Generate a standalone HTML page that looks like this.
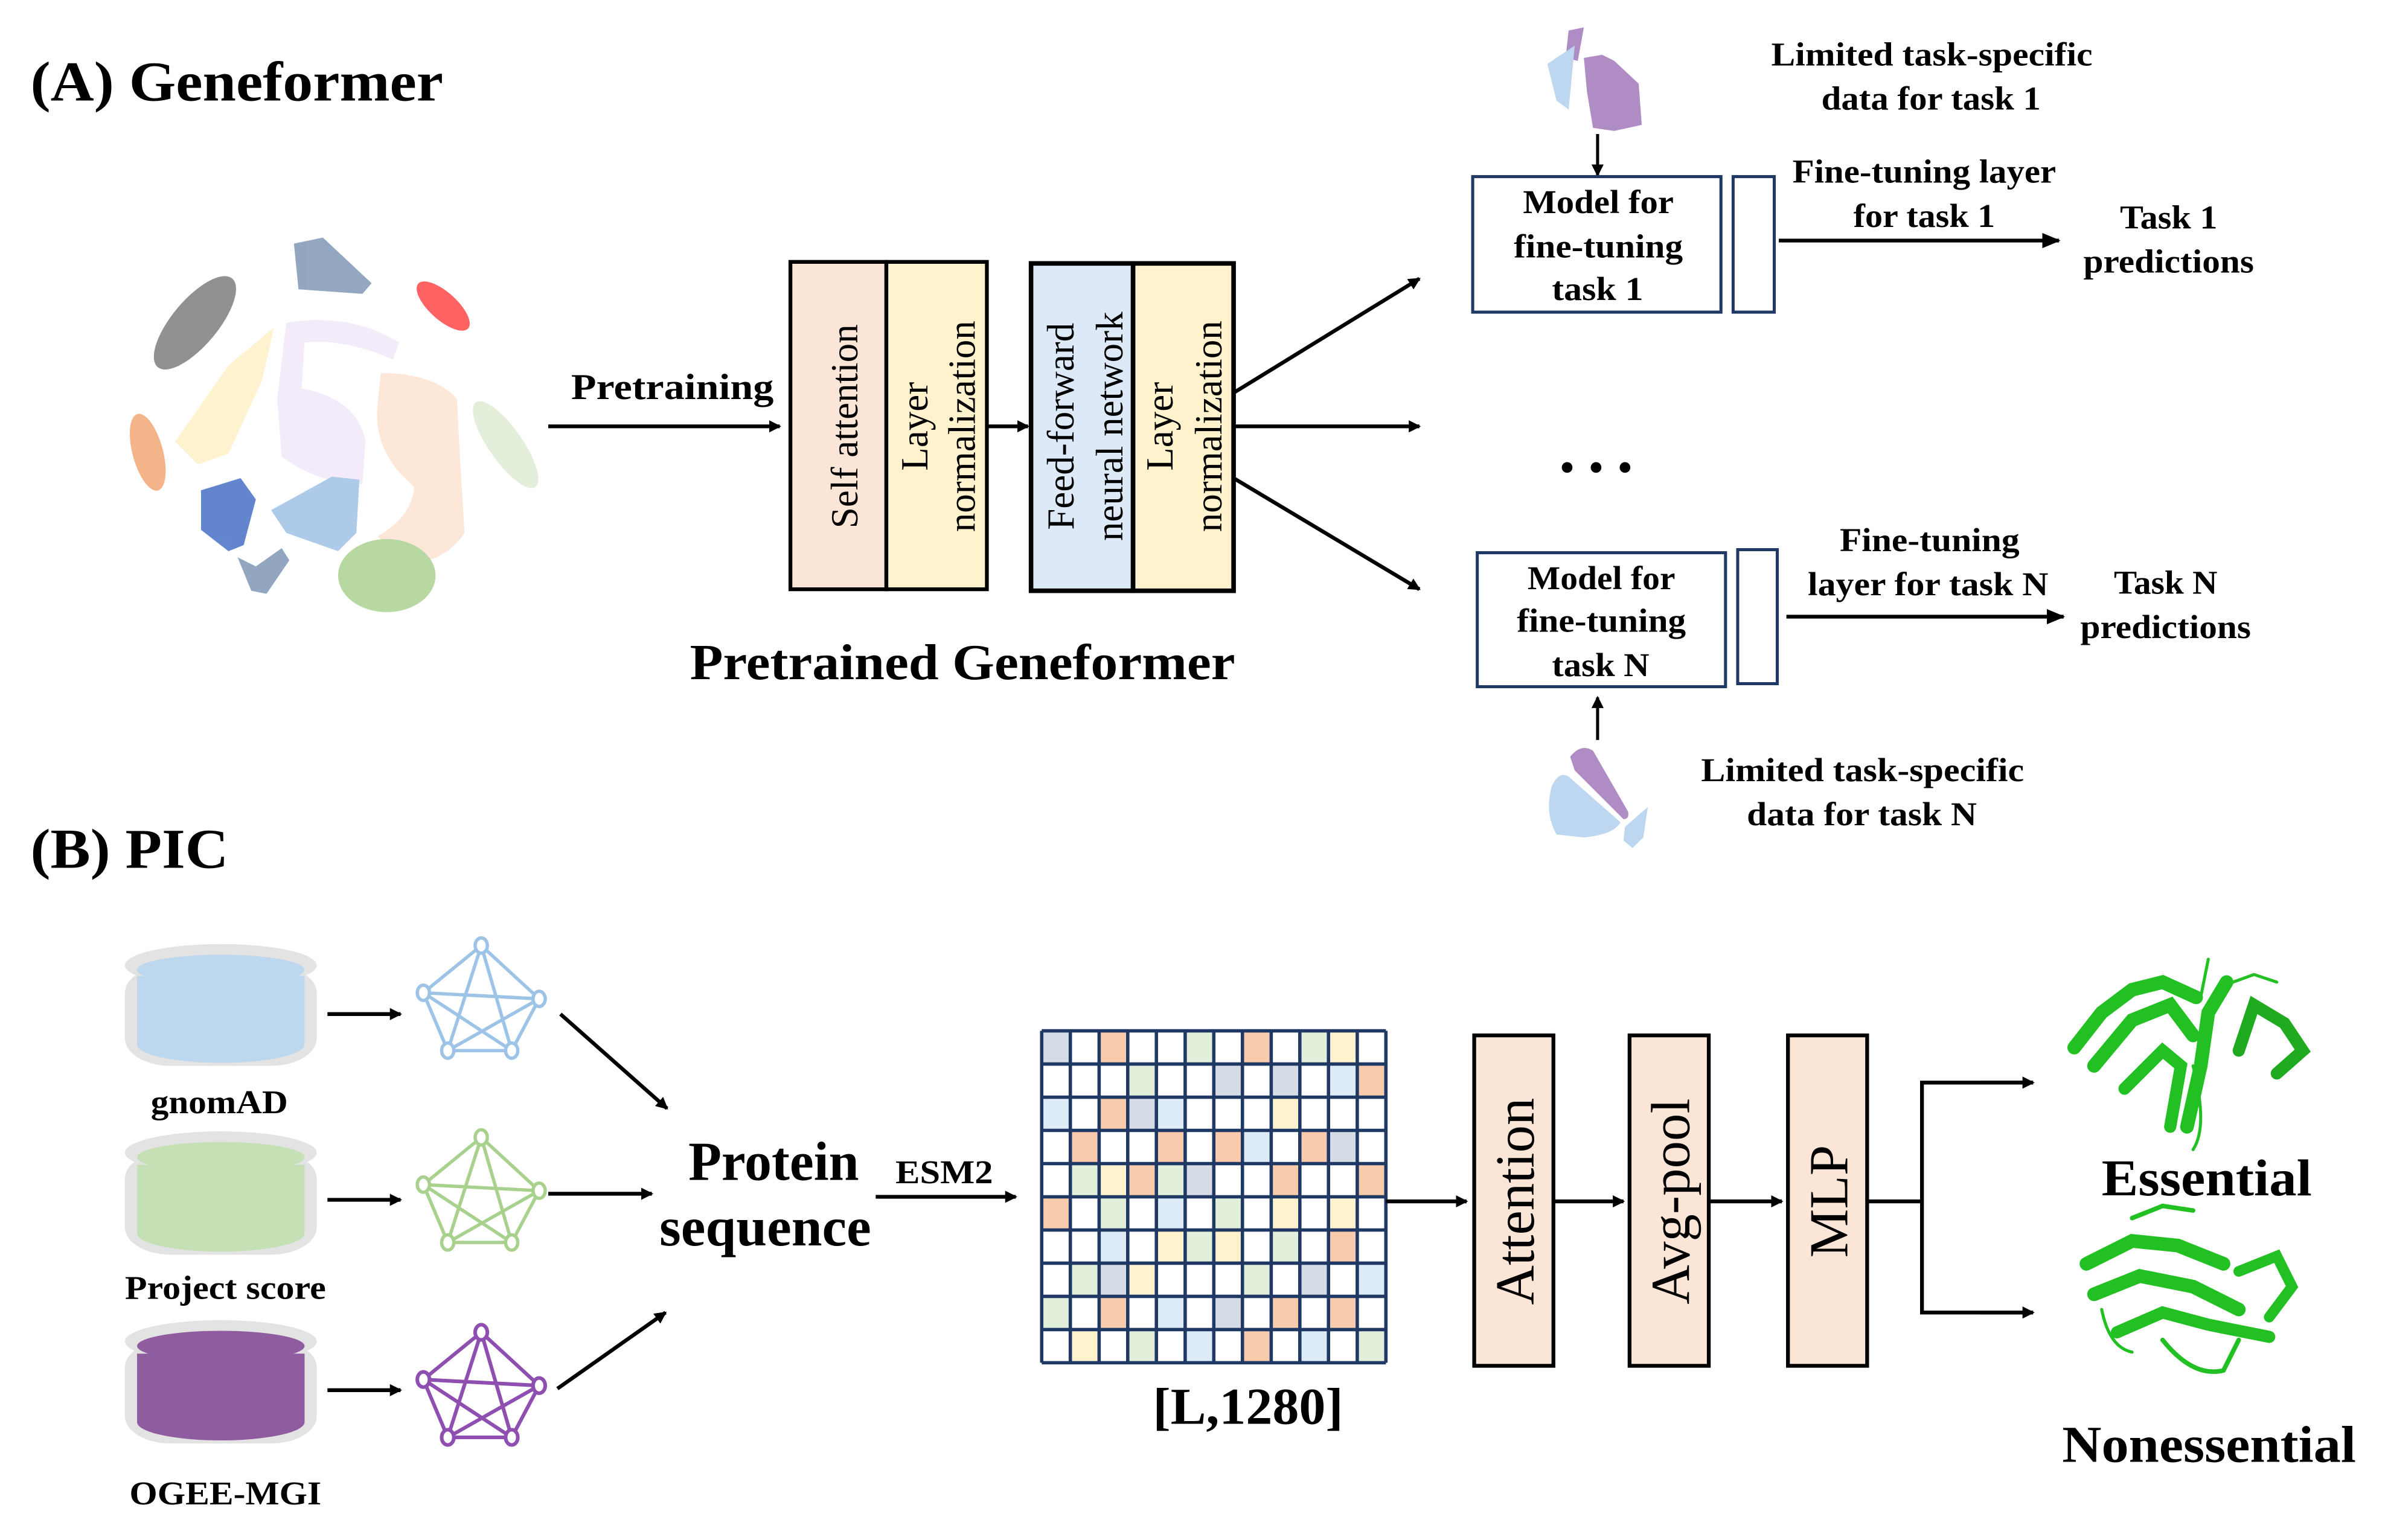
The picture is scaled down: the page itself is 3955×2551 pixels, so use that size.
<!DOCTYPE html>
<html><head><meta charset="utf-8"><style>
html,body{margin:0;padding:0;background:#fff}
svg{display:block}
text{font-family:"Liberation Serif",serif}
.b{font-weight:bold}
</style></head><body>
<svg width="3955" height="2551" viewBox="0 0 1568 1011.4" preserveAspectRatio="none" xmlns="http://www.w3.org/2000/svg">
<defs>
<marker id="ah" markerWidth="8" markerHeight="8" refX="7" refY="4" orient="auto" markerUnits="userSpaceOnUse">
<path d="M0,0 L8,4 L0,8 z" fill="#000"/></marker>
<marker id="ah2" markerWidth="12" markerHeight="10" refX="11" refY="5" orient="auto" markerUnits="userSpaceOnUse">
<path d="M0,0 L12,5 L0,10 z" fill="#000"/></marker>
</defs>
<rect width="1568" height="1011.4" fill="#fff"/>

<!-- (A) -->
<text x="20" y="66" class="b" font-size="37" textLength="271" lengthAdjust="spacingAndGlyphs">(A) Geneformer</text>

<!-- cell clusters -->
<g opacity="0.95">
<ellipse cx="128" cy="212" rx="38" ry="15" fill="#8c8c8c" transform="rotate(-50 128 212)"/>
<path d="M193,160 L212,156 L244,186 L238,193 L196,190 Z" fill="#8ea2bd"/>
<ellipse cx="291" cy="201" rx="22" ry="9" fill="#ff5a5a" transform="rotate(42 291 201)"/>
<path d="M130,305 L115,290 L150,240 L180,215 L172,250 L150,298 Z" fill="#fff2cc"/>
<path d="M188,212 Q230,205 262,225 L258,236 Q225,222 200,225 L198,255 Q235,262 240,290 L238,318 Q210,318 185,300 L182,262 Z" fill="#f4eafa"/>
<path d="M250,245 Q285,245 300,262 L302,300 L305,350 Q290,372 262,370 L248,352 Q270,340 272,320 L262,310 Q245,290 248,265 Z" fill="#fce6d8"/>
<ellipse cx="332" cy="292" rx="34" ry="11" fill="#e2efda" transform="rotate(55 332 292)"/>
<ellipse cx="97" cy="297" rx="10" ry="26" fill="#f4b183" transform="rotate(-15 97 297)"/>
<path d="M132,322 L158,314 L168,328 L160,358 L150,362 L132,348 Z" fill="#5b7fcb"/>
<path d="M178,335 L218,313 L236,315 L234,350 L222,362 L188,350 Z" fill="#a9c8e8"/>
<path d="M156,366 L168,372 L185,360 L190,368 L175,390 L165,388 Z" fill="#8ea2bd"/>
<ellipse cx="254" cy="378" rx="32" ry="24" fill="#b4d69c"/>
</g>

<line x1="360" y1="280" x2="512" y2="280" stroke="#000" stroke-width="2.5" marker-end="url(#ah)"/>
<text x="375" y="262" class="b" font-size="24" textLength="133" lengthAdjust="spacingAndGlyphs">Pretraining</text>

<!-- Geneformer blocks -->
<rect x="519" y="172" width="63" height="215" fill="#fbe5d6" stroke="#000" stroke-width="2.5"/>
<rect x="582" y="172" width="66" height="215" fill="#fff2cc" stroke="#000" stroke-width="2.5"/>
<line x1="648" y1="280" x2="675" y2="280" stroke="#000" stroke-width="2.5" marker-end="url(#ah)"/>
<rect x="677" y="173" width="67" height="215" fill="#dde9f6" stroke="#000" stroke-width="3"/>
<rect x="744" y="173" width="66" height="215" fill="#fff2cc" stroke="#000" stroke-width="3"/>
<g font-size="25">
<text transform="translate(563,280) rotate(-90)" text-anchor="middle">Self attention</text>
<text transform="translate(609,280) rotate(-90)" text-anchor="middle">Layer</text>
<text transform="translate(640,280) rotate(-90)" text-anchor="middle">normalization</text>
<text transform="translate(705,280) rotate(-90)" text-anchor="middle">Feed-forward</text>
<text transform="translate(737,280) rotate(-90)" text-anchor="middle">neural network</text>
<text transform="translate(770,280) rotate(-90)" text-anchor="middle">Layer</text>
<text transform="translate(802,280) rotate(-90)" text-anchor="middle">normalization</text>
</g>
<text x="453" y="446" class="b" font-size="33" textLength="358" lengthAdjust="spacingAndGlyphs">Pretrained Geneformer</text>

<line x1="810" y1="258" x2="932" y2="183" stroke="#000" stroke-width="2.5" marker-end="url(#ah)"/>
<line x1="810" y1="280" x2="932" y2="280" stroke="#000" stroke-width="2.5" marker-end="url(#ah)"/>
<line x1="810" y1="314" x2="932" y2="387" stroke="#000" stroke-width="2.5" marker-end="url(#ah)"/>

<!-- task 1 -->
<path d="M1030,20 L1040,18 L1036,40 L1028,38 Z" fill="#b08cc4"/>
<path d="M1016,42 L1034,30 L1030,72 L1022,66 Z" fill="#bcd7ef"/>
<path d="M1040,38 L1052,36 L1060,40 L1076,55 L1078,82 L1060,86 L1046,84 L1042,60 Z" fill="#b08cc4"/>
<line x1="1049" y1="88" x2="1049" y2="115" stroke="#000" stroke-width="2" marker-end="url(#ah)"/>
<g class="b" font-size="22" font-weight="bold">
<text x="1163" y="43" textLength="211" lengthAdjust="spacingAndGlyphs">Limited task-specific</text>
<text x="1196" y="72" textLength="144" lengthAdjust="spacingAndGlyphs">data for task 1</text>
</g>
<rect x="967" y="116" width="163" height="89" fill="#fff" stroke="#1f3864" stroke-width="2"/>
<rect x="1138" y="116" width="27" height="89" fill="#fff" stroke="#1f3864" stroke-width="2"/>
<g font-size="22" font-weight="bold">
<text x="1000" y="140" textLength="99" lengthAdjust="spacingAndGlyphs">Model for</text>
<text x="994" y="169" textLength="111" lengthAdjust="spacingAndGlyphs">fine-tuning</text>
<text x="1019" y="197" textLength="60" lengthAdjust="spacingAndGlyphs">task 1</text>
</g>
<line x1="1168" y1="158" x2="1352" y2="158" stroke="#000" stroke-width="2.5" marker-end="url(#ah2)"/>
<g font-size="22" font-weight="bold">
<text x="1177" y="120" textLength="173" lengthAdjust="spacingAndGlyphs">Fine-tuning layer</text>
<text x="1217" y="149" textLength="93" lengthAdjust="spacingAndGlyphs">for task 1</text>
<text x="1392" y="150" textLength="64" lengthAdjust="spacingAndGlyphs">Task 1</text>
<text x="1368" y="179" textLength="112" lengthAdjust="spacingAndGlyphs">predictions</text>
</g>

<circle cx="1029" cy="307" r="3.5" fill="#000"/>
<circle cx="1048" cy="307" r="3.5" fill="#000"/>
<circle cx="1067" cy="307" r="3.5" fill="#000"/>

<!-- task N -->
<rect x="970" y="363" width="163" height="88" fill="#fff" stroke="#1f3864" stroke-width="2"/>
<rect x="1141" y="361" width="26" height="88" fill="#fff" stroke="#1f3864" stroke-width="2"/>
<g font-size="22" font-weight="bold">
<text x="1003" y="387" textLength="97" lengthAdjust="spacingAndGlyphs">Model for</text>
<text x="996" y="415" textLength="111" lengthAdjust="spacingAndGlyphs">fine-tuning</text>
<text x="1019" y="444" textLength="64" lengthAdjust="spacingAndGlyphs">task N</text>
</g>
<line x1="1173" y1="405" x2="1355" y2="405" stroke="#000" stroke-width="2.5" marker-end="url(#ah2)"/>
<g font-size="22" font-weight="bold">
<text x="1208" y="362" textLength="118" lengthAdjust="spacingAndGlyphs">Fine-tuning</text>
<text x="1187" y="391" textLength="158" lengthAdjust="spacingAndGlyphs">layer for task N</text>
<text x="1388" y="390" textLength="68" lengthAdjust="spacingAndGlyphs">Task N</text>
<text x="1366" y="419" textLength="112" lengthAdjust="spacingAndGlyphs">predictions</text>
<text x="1117" y="513" textLength="212" lengthAdjust="spacingAndGlyphs">Limited task-specific</text>
<text x="1147" y="542" textLength="151" lengthAdjust="spacingAndGlyphs">data for task N</text>
</g>
<line x1="1049" y1="486" x2="1049" y2="458" stroke="#000" stroke-width="2" marker-end="url(#ah)"/>
<path d="M1031,497 Q1038,488 1046,493 L1069,533 Q1070,538 1066,538 L1034,506 Z" fill="#b08cc4"/>
<path d="M1019,516 Q1024,506 1030,510 L1064,540 Q1060,548 1040,550 L1022,548 Q1014,534 1019,516 Z" fill="#bcd7ef"/>
<path d="M1067,543 L1082,530 L1079,550 L1072,557 L1066,552 Z" fill="#bcd7ef"/>

<!-- (B) -->
<text x="20" y="570" class="b" font-size="37" textLength="130" lengthAdjust="spacingAndGlyphs">(B) PIC</text>

<!-- cylinders -->
<g>
<rect x="82" y="634" width="126" height="66" rx="30" ry="18" fill="#e3e3e3"/>
<ellipse cx="145" cy="634" rx="63" ry="14" fill="#e3e3e3"/>
<path d="M90,641 L90,686 A55,12 0 0 0 200,686 L200,641 Z" fill="#bdd7ee"/>
<ellipse cx="145" cy="637" rx="55" ry="10" fill="#bdd7ee"/>
</g>
<g>
<rect x="82" y="756" width="126" height="68" rx="30" ry="18" fill="#e3e3e3"/>
<ellipse cx="145" cy="757" rx="63" ry="14" fill="#e3e3e3"/>
<path d="M90,765 L90,810 A55,12 0 0 0 200,810 L200,765 Z" fill="#c5e0b4"/>
<ellipse cx="145" cy="760" rx="55" ry="10" fill="#c5e0b4"/>
</g>
<g>
<rect x="82" y="880" width="126" height="68" rx="30" ry="18" fill="#e3e3e3"/>
<ellipse cx="145" cy="881" rx="63" ry="14" fill="#e3e3e3"/>
<path d="M90,889 L90,934 A55,12 0 0 0 200,934 L200,889 Z" fill="#8f5d9f"/>
<ellipse cx="145" cy="884" rx="55" ry="10" fill="#8f5d9f"/>
</g>
<g font-size="22" font-weight="bold">
<text x="99" y="731" textLength="90" lengthAdjust="spacingAndGlyphs">gnomAD</text>
<text x="82" y="853" textLength="132" lengthAdjust="spacingAndGlyphs">Project score</text>
<text x="85" y="988" textLength="126" lengthAdjust="spacingAndGlyphs">OGEE-MGI</text>
</g>

<line x1="215" y1="666" x2="263" y2="666" stroke="#000" stroke-width="2.5" marker-end="url(#ah)"/>
<line x1="215" y1="788" x2="263" y2="788" stroke="#000" stroke-width="2.5" marker-end="url(#ah)"/>
<line x1="215" y1="913" x2="263" y2="913" stroke="#000" stroke-width="2.5" marker-end="url(#ah)"/>

<!-- networks -->
<g fill="#fff" stroke="#9dc3e6" stroke-width="2.2">
<path d="M316,621 L278,652 L294,690 L336,690 L354,656 Z M316,621 L294,690 M316,621 L336,690 M278,652 L354,656 M278,652 L336,690 M294,690 L354,656" fill="none"/>
<ellipse cx="316" cy="621" rx="4" ry="5"/><ellipse cx="278" cy="652" rx="4" ry="5"/><ellipse cx="354" cy="656" rx="4" ry="5"/><ellipse cx="294" cy="690" rx="4" ry="5"/><ellipse cx="336" cy="690" rx="4" ry="5"/>
</g>
<g fill="#fff" stroke="#a9d18e" stroke-width="2.2" transform="translate(0,126)">
<path d="M316,621 L278,652 L294,690 L336,690 L354,656 Z M316,621 L294,690 M316,621 L336,690 M278,652 L354,656 M278,652 L336,690 M294,690 L354,656" fill="none"/>
<ellipse cx="316" cy="621" rx="4" ry="5"/><ellipse cx="278" cy="652" rx="4" ry="5"/><ellipse cx="354" cy="656" rx="4" ry="5"/><ellipse cx="294" cy="690" rx="4" ry="5"/><ellipse cx="336" cy="690" rx="4" ry="5"/>
</g>
<g fill="#fff" stroke="#8e4fb0" stroke-width="2.4" transform="translate(0,254)">
<path d="M316,621 L278,652 L294,690 L336,690 L354,656 Z M316,621 L294,690 M316,621 L336,690 M278,652 L354,656 M278,652 L336,690 M294,690 L354,656" fill="none"/>
<ellipse cx="316" cy="621" rx="4" ry="5"/><ellipse cx="278" cy="652" rx="4" ry="5"/><ellipse cx="354" cy="656" rx="4" ry="5"/><ellipse cx="294" cy="690" rx="4" ry="5"/><ellipse cx="336" cy="690" rx="4" ry="5"/>
</g>

<line x1="368" y1="666" x2="438" y2="728" stroke="#000" stroke-width="2.5" marker-end="url(#ah)"/>
<line x1="360" y1="784" x2="428" y2="784" stroke="#000" stroke-width="2.5" marker-end="url(#ah)"/>
<line x1="366" y1="912" x2="437" y2="862" stroke="#000" stroke-width="2.5" marker-end="url(#ah)"/>

<g font-size="36" font-weight="bold">
<text x="452" y="775" textLength="112" lengthAdjust="spacingAndGlyphs">Protein</text>
<text x="433" y="818" textLength="139" lengthAdjust="spacingAndGlyphs">sequence</text>
</g>
<text x="588" y="777" class="b" font-size="22" textLength="64" lengthAdjust="spacingAndGlyphs">ESM2</text>
<line x1="575" y1="786" x2="667" y2="786" stroke="#000" stroke-width="2.5" marker-end="url(#ah)"/>

<!-- matrix -->
<svg x="684" y="677" width="226" height="218" viewBox="0 0 12 10" preserveAspectRatio="none">
<rect width="12" height="10" fill="#fff"/>
<g fill="#d6dce5"><rect x="0" y="0" width="1" height="1"/><rect x="6" y="1" width="1" height="1"/><rect x="8" y="1" width="1" height="1"/><rect x="3" y="2" width="1" height="1"/><rect x="10" y="3" width="1" height="1"/><rect x="5" y="4" width="1" height="1"/><rect x="2" y="7" width="1" height="1"/><rect x="9" y="7" width="1" height="1"/><rect x="6" y="8" width="1" height="1"/></g>
<g fill="#f8cbad"><rect x="2" y="0" width="1" height="1"/><rect x="7" y="0" width="1" height="1"/><rect x="11" y="1" width="1" height="1"/><rect x="2" y="2" width="1" height="1"/><rect x="1" y="3" width="1" height="1"/><rect x="4" y="3" width="1" height="1"/><rect x="6" y="3" width="1" height="1"/><rect x="9" y="3" width="1" height="1"/><rect x="3" y="4" width="1" height="1"/><rect x="8" y="4" width="1" height="1"/><rect x="11" y="4" width="1" height="1"/><rect x="0" y="5" width="1" height="1"/><rect x="10" y="6" width="1" height="1"/><rect x="2" y="8" width="1" height="1"/><rect x="8" y="8" width="1" height="1"/><rect x="10" y="8" width="1" height="1"/><rect x="7" y="9" width="1" height="1"/></g>
<g fill="#e2efda"><rect x="5" y="0" width="1" height="1"/><rect x="9" y="0" width="1" height="1"/><rect x="3" y="1" width="1" height="1"/><rect x="1" y="4" width="1" height="1"/><rect x="4" y="4" width="1" height="1"/><rect x="2" y="5" width="1" height="1"/><rect x="6" y="5" width="1" height="1"/><rect x="5" y="6" width="1" height="1"/><rect x="8" y="6" width="1" height="1"/><rect x="1" y="7" width="1" height="1"/><rect x="7" y="7" width="1" height="1"/><rect x="0" y="8" width="1" height="1"/><rect x="3" y="9" width="1" height="1"/><rect x="11" y="9" width="1" height="1"/></g>
<g fill="#fff2cc"><rect x="10" y="0" width="1" height="1"/><rect x="8" y="2" width="1" height="1"/><rect x="2" y="4" width="1" height="1"/><rect x="8" y="5" width="1" height="1"/><rect x="10" y="5" width="1" height="1"/><rect x="4" y="6" width="1" height="1"/><rect x="6" y="6" width="1" height="1"/><rect x="3" y="7" width="1" height="1"/><rect x="1" y="9" width="1" height="1"/></g>
<g fill="#ddebf7"><rect x="10" y="1" width="1" height="1"/><rect x="0" y="2" width="1" height="1"/><rect x="4" y="2" width="1" height="1"/><rect x="7" y="3" width="1" height="1"/><rect x="4" y="5" width="1" height="1"/><rect x="2" y="6" width="1" height="1"/><rect x="11" y="7" width="1" height="1"/><rect x="4" y="8" width="1" height="1"/><rect x="5" y="9" width="1" height="1"/><rect x="9" y="9" width="1" height="1"/></g>
</svg>
<g stroke="#1f3864" stroke-width="2.2" fill="none">
<path d="M684,677V895M702.8,677V895M721.7,677V895M740.5,677V895M759.3,677V895M778.2,677V895M797,677V895M815.8,677V895M834.7,677V895M853.5,677V895M872.3,677V895M891.2,677V895M910,677V895"/>
<path d="M684,677H910M684,698.8H910M684,720.6H910M684,742.4H910M684,764.2H910M684,786H910M684,807.8H910M684,829.6H910M684,851.4H910M684,873.2H910M684,895H910"/>
</g>
<text x="757" y="935" class="b" font-size="34" textLength="125" lengthAdjust="spacingAndGlyphs">[L,1280]</text>

<line x1="910" y1="789" x2="963" y2="789" stroke="#000" stroke-width="2.5" marker-end="url(#ah)"/>
<rect x="968" y="680" width="52" height="217" fill="#fbe5d6" stroke="#000" stroke-width="2.5"/>
<line x1="1020" y1="789" x2="1066" y2="789" stroke="#000" stroke-width="2.5" marker-end="url(#ah)"/>
<rect x="1070" y="680" width="52" height="217" fill="#fbe5d6" stroke="#000" stroke-width="2.5"/>
<line x1="1122" y1="789" x2="1170" y2="789" stroke="#000" stroke-width="2.5" marker-end="url(#ah)"/>
<rect x="1174" y="680" width="52" height="217" fill="#fbe5d6" stroke="#000" stroke-width="2.5"/>
<g font-size="36">
<text transform="translate(1007,789) rotate(-90)" text-anchor="middle">Attention</text>
<text transform="translate(1109,789) rotate(-90)" text-anchor="middle">Avg-pool</text>
<text transform="translate(1213,789) rotate(-90)" text-anchor="middle">MLP</text>
</g>
<path d="M1226,789 H1262 V711 H1334 M1262,789 V862 H1334" fill="none" stroke="#000" stroke-width="2.5"/>
<line x1="1300" y1="711" x2="1335" y2="711" stroke="#000" stroke-width="2.5" marker-end="url(#ah)"/>
<line x1="1300" y1="862" x2="1335" y2="862" stroke="#000" stroke-width="2.5" marker-end="url(#ah)"/>

<!-- proteins -->
<g fill="none" stroke="#22c022" stroke-linecap="round">
<path d="M1362,688 L1380,665 L1400,650 L1420,645 L1442,655" stroke-width="9"/>
<path d="M1375,700 L1400,670 L1425,660 L1440,680" stroke-width="9"/>
<path d="M1395,715 L1420,690 L1432,700 L1425,740" stroke-width="8"/>
<path d="M1436,740 L1445,700 L1450,665 L1462,645" stroke-width="9"/>
<path d="M1470,690 L1480,660 L1500,672 L1512,690 L1495,705" stroke-width="8" stroke="#1faa1f"/>
<path d="M1458,648 L1480,640 L1495,645" stroke-width="2"/>
<path d="M1440,700 Q1450,740 1440,755" stroke-width="2"/>
<path d="M1450,630 L1445,655" stroke-width="2"/>
</g>
<g fill="none" stroke="#22c022" stroke-linecap="round">
<path d="M1370,830 L1400,815 L1430,818 L1460,830" stroke-width="9"/>
<path d="M1375,850 L1405,838 L1440,845 L1470,860" stroke-width="9"/>
<path d="M1390,875 L1420,862 L1450,870 L1490,878" stroke-width="8"/>
<path d="M1470,835 L1495,825 L1505,845 L1490,865" stroke-width="7"/>
<path d="M1400,800 L1420,792 L1440,795" stroke-width="3"/>
<path d="M1420,880 Q1440,905 1460,900 L1470,880" stroke-width="3"/>
<path d="M1380,860 Q1385,885 1400,888" stroke-width="2"/>
</g>

<g font-size="34" font-weight="bold">
<text x="1380" y="785" textLength="138" lengthAdjust="spacingAndGlyphs">Essential</text>
<text x="1354" y="960" textLength="193" lengthAdjust="spacingAndGlyphs">Nonessential</text>
</g>
</svg>
</body></html>
